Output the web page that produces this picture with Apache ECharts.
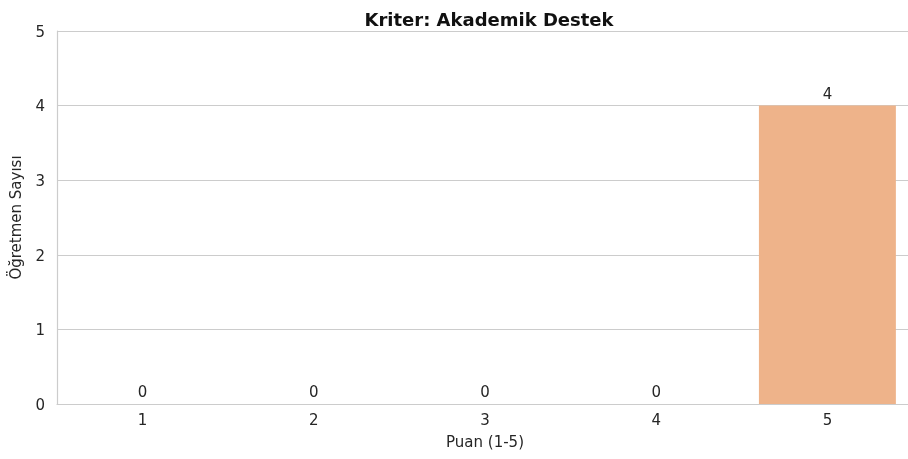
<!DOCTYPE html>
<html><head><meta charset="utf-8">
<script src="https://cdn.jsdelivr.net/npm/echarts@6/dist/echarts.min.js"></script>
<style>html,body{margin:0;padding:0;background:#fff;overflow:hidden;width:908px;height:459px}#c{width:913px;height:459px}</style>
</head><body><div id="c"></div>
<script>
const categories = ['1','2','3','4','5'];
const counts = [0,0,0,0,4];
const yTicks = [0,1,2,3,4,5];
const titleText = 'Kriter: Akademik Destek';
const xName = 'Puan (1-5)';
const yName = 'Öğretmen Sayısı';

const chart = echarts.init(document.getElementById('c'), null, {renderer:'canvas'});
const font = 'DejaVu Sans';
const txt = '#262626';
chart.setOption({
  animation:false,
  title:{text:titleText,left:484,textAlign:'center',top:7,textStyle:{fontFamily:font,fontSize:18,fontWeight:'bold',color:'#111'}},
  grid:{left:57,right:0,top:31,bottom:55,containLabel:false},
  xAxis:{type:'category',data:categories,
    name:xName,nameLocation:'middle',nameGap:32,nameTextStyle:{fontFamily:font,fontSize:15,color:txt},
    axisLine:{show:true,lineStyle:{color:'#cccccc',width:1.2}},axisTick:{show:false},
    axisLabel:{fontFamily:font,fontSize:15,color:txt,margin:10}},
  yAxis:{type:'value',min:yTicks[0],max:yTicks[yTicks.length-1],interval:1,
    name:yName,nameLocation:'middle',nameGap:30,nameTextStyle:{fontFamily:font,fontSize:15,color:txt},
    axisLine:{show:true,lineStyle:{color:'#cccccc',width:1.2}},axisTick:{show:false},
    splitLine:{show:true,lineStyle:{color:'#cccccc',width:1}},
    axisLabel:{fontFamily:font,fontSize:15,color:txt,margin:12,
      formatter:function(v){return '{v|'+v+'}';},
      rich:{v:{fontFamily:font,fontSize:15,color:txt,padding:[4,0,0,0]}}}},
  series:[{type:'bar',data:counts,barWidth:'80%',
    itemStyle:{color:'#EEB38A'},
    label:{show:true,position:'top',distance:3,fontFamily:font,fontSize:15,color:txt}}]
});
</script></body></html>
